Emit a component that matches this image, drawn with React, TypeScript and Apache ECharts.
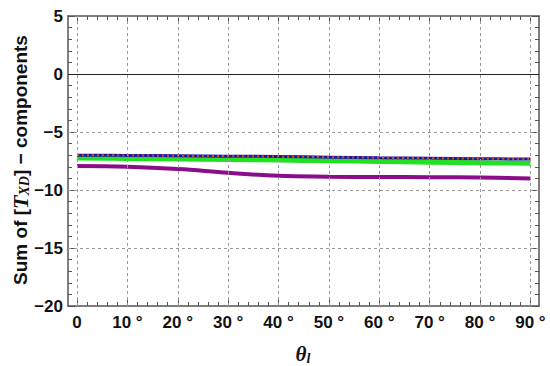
import React, { useEffect, useRef } from "react";
import * as echarts from "echarts";

const angles = [0, 10, 20, 30, 40, 50, 60, 70, 80, 90];
const blueVals = [-7.0, -7.02, -7.05, -7.08, -7.12, -7.17, -7.22, -7.26, -7.3, -7.33];
const redVals = [-7.0, -7.02, -7.05, -7.08, -7.12, -7.17, -7.22, -7.26, -7.3, -7.33];
const greenVals = [-7.25, -7.28, -7.32, -7.37, -7.42, -7.48, -7.54, -7.6, -7.65, -7.7];
const purpleVals = [-7.93, -8.0, -8.2, -8.52, -8.78, -8.85, -8.88, -8.9, -8.93, -9.0];
const xMajor = [0, 10, 20, 30, 40, 50, 60, 70, 80, 90];
const xMinor = [0, 2, 4, 6, 8, 10, 12, 14, 16, 18, 20, 22, 24, 26, 28, 30, 32, 34, 36, 38, 40, 42, 44, 46, 48, 50, 52, 54, 56, 58, 60, 62, 64, 66, 68, 70, 72, 74, 76, 78, 80, 82, 84, 86, 88, 90];
const yGridVals = [-15, -10, -5];

const XMIN = -1.8;
const XMAX = 91.7;
const frame = "#555";
const labelFont = { fontFamily: "Liberation Sans, Arial", fontWeight: "bold" as const, fontSize: 17, color: "#111" };

export default function App() {
  const ref = useRef<HTMLDivElement>(null);
  useEffect(() => {
    if (!ref.current) return;
    const chart = echarts.init(ref.current, null, { renderer: "svg" });
    const pair = (vals: number[]) => angles.map((a, i) => [a, vals[i]]);
    const baseX = {
      type: "value" as const,
      min: XMIN,
      max: XMAX,
      splitLine: { show: false },
    };
    const line = (show: boolean) => ({ show, onZero: false, lineStyle: { color: frame, width: 1.5 } });
    const option: any = {
      animation: false,
      backgroundColor: "#fff",
      grid: { left: 68, right: 11, top: 16, bottom: 60 },
      xAxis: [
        {
          ...baseX,
          position: "bottom",
          axisLine: line(true),
          axisTick: { show: true, inside: true, length: 7, customValues: xMajor, lineStyle: { color: frame } },
          axisLabel: {
            show: true,
            customValues: xMajor,
            margin: 8,
            ...labelFont,
            formatter: (v: number) => (v === 0 ? "0" : `${v} °`),
          },
        },
        {
          ...baseX,
          position: "bottom",
          axisLine: line(false),
          axisTick: { show: true, inside: true, length: 4, customValues: xMinor, lineStyle: { color: frame } },
          axisLabel: { show: false },
        },
        {
          ...baseX,
          position: "top",
          axisLine: line(true),
          axisTick: { show: true, inside: true, length: 7, customValues: xMajor, lineStyle: { color: frame } },
          axisLabel: { show: false },
        },
        {
          ...baseX,
          position: "top",
          axisLine: line(false),
          axisTick: { show: true, inside: true, length: 4, customValues: xMinor, lineStyle: { color: frame } },
          axisLabel: { show: false },
        },
      ],
      yAxis: [
        {
          type: "value",
          min: -20,
          max: 5,
          interval: 5,
          position: "left",
          axisLine: line(true),
          axisTick: { show: true, inside: true, length: 7, lineStyle: { color: frame } },
          minorTick: { show: true, splitNumber: 5, length: 4, lineStyle: { color: frame } },
          splitLine: { show: false },
          axisLabel: {
            ...labelFont,
            margin: 5,
            formatter: (v: number) => String(v).replace("-", "\u2212"),
          },
        },
        {
          type: "value",
          min: -20,
          max: 5,
          interval: 5,
          position: "right",
          axisLine: line(true),
          axisTick: { show: true, inside: true, length: 7, lineStyle: { color: frame } },
          minorTick: { show: true, splitNumber: 5, length: 4, lineStyle: { color: frame } },
          splitLine: { show: false },
          axisLabel: { show: false },
        },
      ],
      series: [
        {
          type: "line",
          data: [],
          xAxisIndex: 0,
          yAxisIndex: 0,
          markLine: {
            silent: true,
            symbol: "none",
            label: { show: false },
            data: [
              ...xMajor.map((v) => ({ xAxis: v, lineStyle: { color: "#999", type: [3, 3], width: 1 } })),
              ...yGridVals.map((v) => ({ yAxis: v, lineStyle: { color: "#999", type: [3, 3], width: 1 } })),
              { yAxis: 0, lineStyle: { color: "#222", type: "solid", width: 1 } },
            ],
          },
        },
        {
          type: "line",
          data: pair(purpleVals),
          smooth: 0.4,
          showSymbol: false,
          lineStyle: { color: "#8a0d8a", width: 4 },
        },
        {
          type: "line",
          data: pair(greenVals),
          smooth: 0.4,
          showSymbol: false,
          lineStyle: { color: "#22e022", width: 5 },
        },
        {
          type: "line",
          data: pair(blueVals),
          smooth: 0.4,
          showSymbol: false,
          lineStyle: { color: "#1a1aa0", width: 3 },
        },
        {
          type: "line",
          data: pair(redVals),
          smooth: 0.4,
          showSymbol: false,
          lineStyle: { color: "#d04a3a", width: 2, type: [2, 3] },
        },
      ],
      graphic: [
        {
          type: "text",
          x: 20,
          y: 160,
          rotation: Math.PI / 2,
          style: {
            text: "{a|Sum of [}{t|T}{s|XD}{a|] \u2212 components}",
            align: "center",
            verticalAlign: "middle",
            rich: {
              a: { fontFamily: "Liberation Sans, Arial", fontWeight: "bold", fontSize: 19, fill: "#111" },
              t: { fontFamily: "Liberation Serif, Times New Roman", fontStyle: "italic", fontWeight: "bold", fontSize: 22, fill: "#111" },
              s: { fontFamily: "Liberation Serif, Times New Roman", fontStyle: "italic", fontWeight: "bold", fontSize: 14, fill: "#111", padding: [9, 0, 0, 0] },
            },
          },
        },
        {
          type: "text",
          x: 303,
          y: 354,
          style: {
            text: "{t|\u03b8}{s|l}",
            align: "center",
            verticalAlign: "middle",
            rich: {
              t: { fontFamily: "Liberation Serif, Times New Roman", fontStyle: "italic", fontWeight: "bold", fontSize: 21, fill: "#111" },
              s: { fontFamily: "Liberation Serif, Times New Roman", fontStyle: "italic", fontWeight: "bold", fontSize: 14, fill: "#111", padding: [9, 0, 0, 0] },
            },
          },
        },
      ],
    };
    chart.setOption(option);
    return () => chart.dispose();
  }, []);
  return <div ref={ref} style={{ width: 550, height: 366, position: "absolute", left: 0, top: 0 }} />;
}
